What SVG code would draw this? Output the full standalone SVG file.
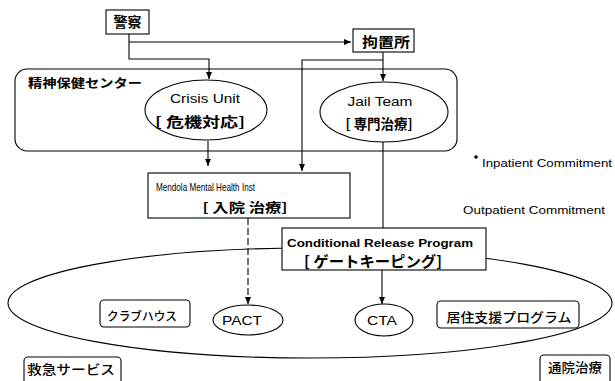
<svg xmlns="http://www.w3.org/2000/svg" width="615" height="381" viewBox="0 0 615 381">
<defs>
<style>
.ln{fill:none;stroke:#000;stroke-width:1.1}
.bx{fill:#fff;stroke:#000;stroke-width:1.1}
.jp{font-family:"Noto Sans CJK JP","Noto Sans",sans-serif;font-weight:bold;fill:#000}
.jn{font-family:"Noto Sans CJK JP","Noto Sans",sans-serif;font-weight:500;fill:#000}
.en{font-family:"Liberation Sans","DejaVu Sans",sans-serif;fill:#000}
</style>
<marker id="ah" markerWidth="8" markerHeight="8" refX="7" refY="4" orient="auto" markerUnits="userSpaceOnUse">
<path d="M0,1 L7,4 L0,7 Z" fill="#000"/>
</marker>
</defs>
<rect width="615" height="381" fill="#fff"/>

<g id="outpatient-area">
<ellipse cx="310" cy="303" rx="302" ry="55" class="ln"/>
</g>

<g id="center">
<rect x="15" y="69" width="442" height="82" rx="12" class="ln"/>
<text x="28" y="88" class="jp" font-size="12.5" textLength="114" lengthAdjust="spacingAndGlyphs">精神保健センター</text>
</g>

<g id="connectors">
<path d="M129,34 V59 H209 V79" class="ln" marker-end="url(#ah)"/>
<path d="M129,42 H351" class="ln" marker-end="url(#ah)"/>
<path d="M383,52 V81" class="ln" marker-end="url(#ah)"/>
<path d="M383,60 H302 V171" class="ln" marker-end="url(#ah)"/>
<path d="M208,141 V166" class="ln" marker-end="url(#ah)"/>
<path d="M383,142 V228" class="ln"/>
<path d="M248,218 V304" class="ln" stroke-dasharray="7 3" marker-end="url(#ah)"/>
<path d="M382,270 V304" class="ln" marker-end="url(#ah)"/>
</g>

<g id="police">
<rect x="106" y="10" width="43" height="24" class="bx"/>
<text x="127.5" y="27" class="jp" font-size="14" text-anchor="middle">警察</text>
</g>

<g id="jail">
<rect x="353" y="29" width="61" height="23" class="bx"/>
<text x="386" y="47" class="jp" font-size="14" text-anchor="middle" textLength="48" lengthAdjust="spacingAndGlyphs">拘置所</text>
</g>

<g id="crisis-unit">
<ellipse cx="206" cy="110" rx="61" ry="30" class="bx"/>
<text x="205" y="103" class="en" font-size="12" text-anchor="middle" textLength="70" lengthAdjust="spacingAndGlyphs">Crisis Unit</text>
<text x="200" y="127" class="jp" font-size="14" text-anchor="middle" textLength="90" lengthAdjust="spacingAndGlyphs">[ 危機対応]</text>
</g>

<g id="jail-team">
<ellipse cx="384" cy="112" rx="64" ry="30" class="bx"/>
<text x="380" y="106" class="en" font-size="12" text-anchor="middle" textLength="65" lengthAdjust="spacingAndGlyphs">Jail Team</text>
<text x="379" y="129" class="jp" font-size="14" text-anchor="middle" textLength="67" lengthAdjust="spacingAndGlyphs">[ 専門治療]</text>
</g>

<g id="mendola">
<rect x="148" y="173" width="202" height="45" class="bx"/>
<text x="156" y="191" class="en" font-size="10.5" textLength="99" lengthAdjust="spacingAndGlyphs">Mendola Mental Health Inst</text>
<text x="245" y="212" class="jp" font-size="13" text-anchor="middle" textLength="85" lengthAdjust="spacingAndGlyphs">[ 入院 治療]</text>
</g>

<g id="conditional-release">
<rect x="282" y="228" width="204" height="42" class="bx"/>
<text x="287" y="247" class="en" font-size="11" font-weight="bold" textLength="186" lengthAdjust="spacingAndGlyphs">Conditional Release Program</text>
<text x="304" y="267" class="jp" font-size="15" textLength="138" lengthAdjust="spacingAndGlyphs">[ ゲートキーピング]</text>
</g>

<g id="clubhouse">
<rect x="100" y="300" width="90" height="27" rx="4" class="bx"/>
<text x="142" y="321" class="jn" font-size="12" text-anchor="middle" textLength="70" lengthAdjust="spacingAndGlyphs">クラブハウス</text>
</g>

<g id="pact">
<ellipse cx="248" cy="320" rx="35" ry="15" class="bx"/>
<text x="242" y="324.5" class="en" font-size="13" text-anchor="middle" textLength="40" lengthAdjust="spacingAndGlyphs">PACT</text>
</g>

<g id="cta">
<ellipse cx="384" cy="320" rx="29" ry="16" class="bx"/>
<text x="382" y="324.5" class="en" font-size="13" text-anchor="middle" textLength="30" lengthAdjust="spacingAndGlyphs">CTA</text>
</g>

<g id="residential-support">
<rect x="437" y="301" width="142" height="27" rx="4" class="bx"/>
<text x="509" y="322" class="jn" font-size="13" text-anchor="middle" textLength="125" lengthAdjust="spacingAndGlyphs">居住支援プログラム</text>
</g>

<g id="emergency-service">
<rect x="24" y="357" width="97" height="30" rx="4" class="bx"/>
<text x="71" y="374" class="jn" font-size="13" text-anchor="middle" textLength="88" lengthAdjust="spacingAndGlyphs">救急サービス</text>
</g>

<g id="outpatient-treatment">
<rect x="540" y="355" width="70" height="30" rx="4" class="bx"/>
<text x="575" y="372" class="jn" font-size="13" text-anchor="middle" textLength="54" lengthAdjust="spacingAndGlyphs">通院治療</text>
</g>

<g id="legend">
<circle cx="476" cy="157" r="1.8" fill="#000"/>
<text x="482" y="167" class="en" font-size="10.5" textLength="130" lengthAdjust="spacingAndGlyphs">Inpatient Commitment</text>
<text x="463" y="214" class="en" font-size="10.5" textLength="142" lengthAdjust="spacingAndGlyphs">Outpatient Commitment</text>
</g>
</svg>
